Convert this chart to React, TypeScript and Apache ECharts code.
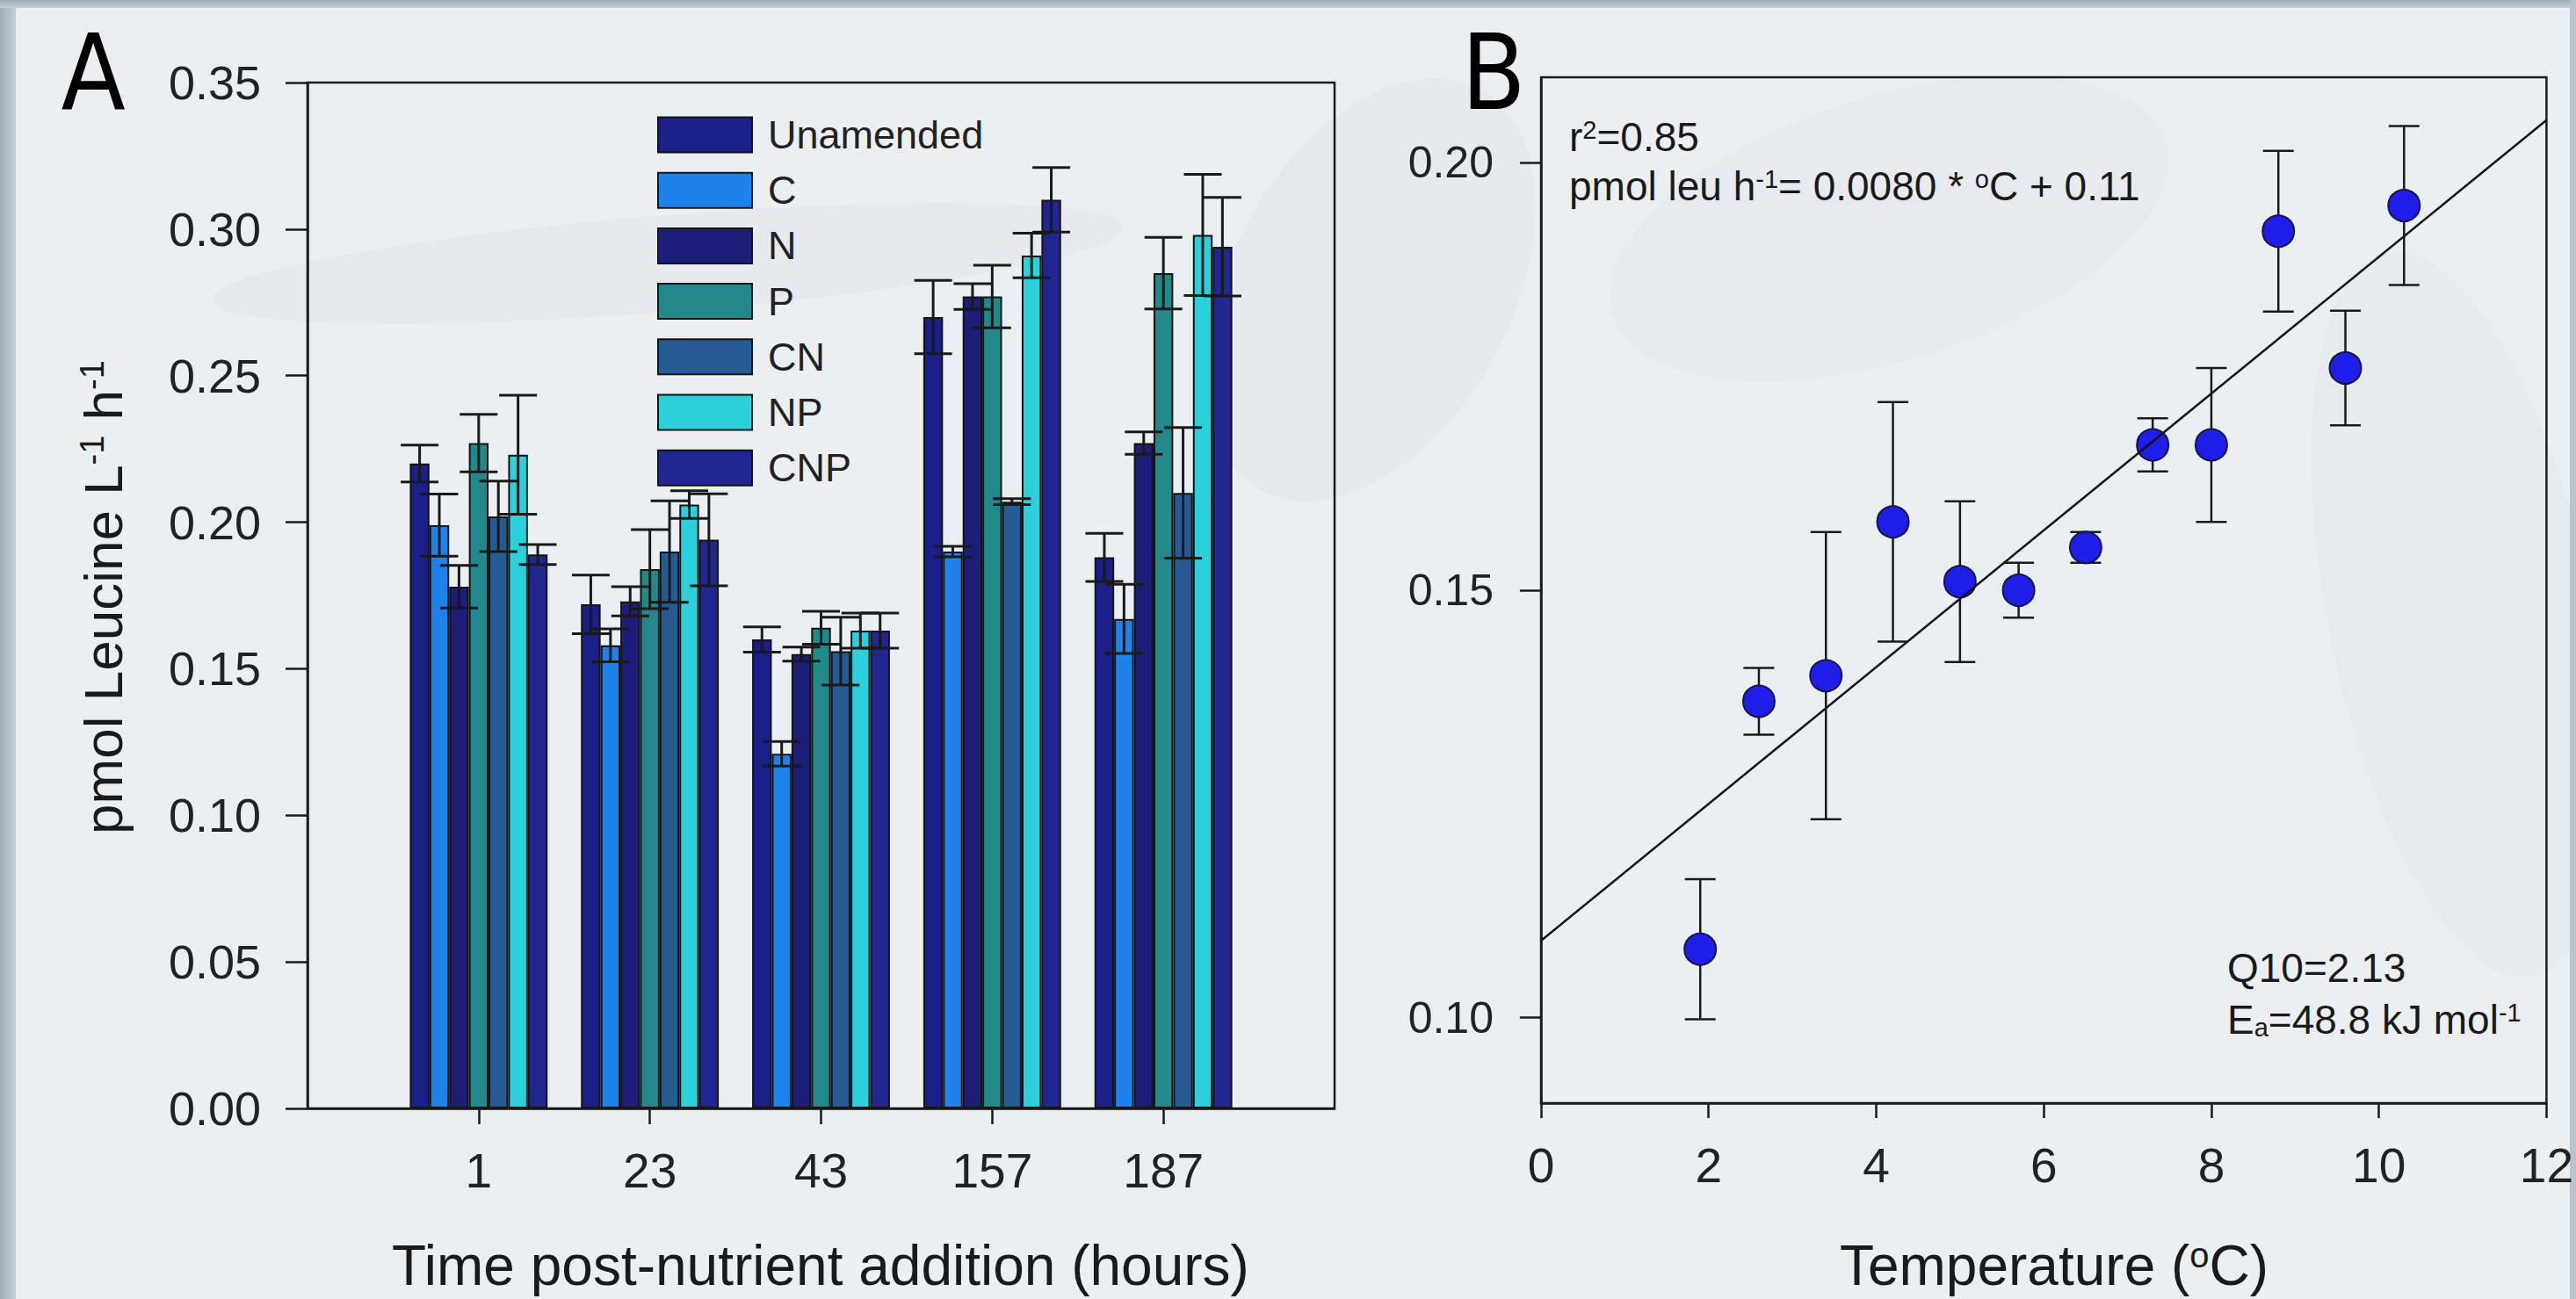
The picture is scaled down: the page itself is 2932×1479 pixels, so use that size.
import React, { useEffect, useRef } from 'react';
import * as echarts from 'echarts';

// ---------- Panel A data ----------
const hours = ['1', '23', '43', '157', '187'];
const treatments = ['Unamended', 'C', 'N', 'P', 'CN', 'NP', 'CNP'];
const treatmentColors = ['#1a2088', '#1f82ea', '#1c1e78', '#22888a', '#255a92', '#2bd0da', '#212690'];

const unamended = [0.220, 0.172, 0.160, 0.270, 0.188];
const unamendedErr = [0.0063, 0.010, 0.0043, 0.0125, 0.0082];
const cOnly = [0.199, 0.158, 0.121, 0.190, 0.167];
const cOnlyErr = [0.0106, 0.0056, 0.0042, 0.0018, 0.0118];
const nOnly = [0.178, 0.173, 0.155, 0.277, 0.227];
const nOnlyErr = [0.0073, 0.005, 0.0024, 0.0044, 0.0038];
const pOnly = [0.227, 0.184, 0.164, 0.277, 0.285];
const pOnlyErr = [0.0098, 0.0135, 0.0056, 0.0107, 0.0122];
const cn = [0.202, 0.190, 0.156, 0.207, 0.210];
const cnErr = [0.012, 0.0173, 0.0116, 0.001, 0.0223];
const np = [0.223, 0.206, 0.163, 0.291, 0.298];
const npErr = [0.0203, 0.0047, 0.006, 0.0076, 0.0207];
const cnp = [0.189, 0.194, 0.163, 0.310, 0.294];
const cnpErr = [0.0034, 0.0157, 0.006, 0.011, 0.0168];

const yMinA = 0;
const yMaxA = 0.35;
const yStepA = 0.05;

// ---------- Panel B data ----------
const temperature = [1.9, 2.6, 3.4, 4.2, 5.0, 5.7, 6.5, 7.3, 8.0, 8.8, 9.6, 10.3];
const leucineRate = [0.108, 0.137, 0.140, 0.158, 0.151, 0.150, 0.155, 0.167, 0.167, 0.192, 0.176, 0.195];
const leucineErr = [0.0082, 0.0039, 0.0168, 0.014, 0.0094, 0.0032, 0.0018, 0.0031, 0.009, 0.0094, 0.0067, 0.0093];
const fitX = [0, 12];
const fitY = [0.109, 0.205];
const yTicksB = [0.10, 0.15, 0.20];
const xTicksB = [0, 2, 4, 6, 8, 10, 12];

const FONT = '"Liberation Sans", Arial, Helvetica, sans-serif';
const NARROW = '"Liberation Sans Narrow", "DejaVu Sans Condensed", "Liberation Sans", sans-serif';
const INK = '#1a1a1a';
const BAR_FRAC = 0.115;

export default function App() {
  const ref = useRef<HTMLDivElement>(null);

  useEffect(() => {
    document.body.style.margin = '0';
    document.body.style.overflow = 'hidden';
    if (!ref.current) return;
    const chart = echarts.init(ref.current, undefined, { renderer: 'svg' });

    const values = [unamended, cOnly, nOnly, pOnly, cn, np, cnp];
    const errs = [unamendedErr, cOnlyErr, nOnlyErr, pOnlyErr, cnErr, npErr, cnpErr];
    const catData = ['', ...hours, ''];

    const barSeries = treatments.map((name, i) => ({
      type: 'bar',
      name,
      xAxisIndex: 0,
      yAxisIndex: 0,
      data: [null, ...values[i], null],
      barWidth: (BAR_FRAC * 100) + '%',
      barGap: '0%',
      itemStyle: { color: treatmentColors[i], borderColor: '#141414', borderWidth: 2 },
      z: 2,
    }));

    const errDataA: number[][] = [];
    values.forEach((vals, k) => {
      vals.forEach((v, j) => errDataA.push([j + 1, k, v, errs[k][j]]));
    });

    const errSeriesA = {
      type: 'custom',
      xAxisIndex: 0,
      yAxisIndex: 0,
      data: errDataA,
      encode: { x: 0, y: 2 },
      z: 5,
      silent: true,
      renderItem: (_p: any, api: any) => {
        const idx = api.value(0);
        const k = api.value(1);
        const v = api.value(2);
        const e = api.value(3);
        const band = api.size([1, 0])[0];
        const w = band * BAR_FRAC;
        const c = api.coord([idx, v]);
        const x = c[0] + (k - 3) * w;
        const yTop = api.coord([idx, v + e])[1];
        const yBot = api.coord([idx, v - e])[1];
        const hw = w * 0.96;
        const style = { stroke: INK, lineWidth: 3 };
        return {
          type: 'group',
          children: [
            { type: 'line', shape: { x1: x, y1: yTop, x2: x, y2: yBot }, style },
            { type: 'line', shape: { x1: x - hw, y1: yTop, x2: x + hw, y2: yTop }, style },
            { type: 'line', shape: { x1: x - hw, y1: yBot, x2: x + hw, y2: yBot }, style },
          ],
        };
      },
    };

    const errSeriesB = {
      type: 'custom',
      xAxisIndex: 1,
      yAxisIndex: 1,
      data: temperature.map((t, i) => [t, leucineRate[i], leucineErr[i]]),
      encode: { x: 0, y: 1 },
      z: 3,
      silent: true,
      renderItem: (_p: any, api: any) => {
        const t = api.value(0);
        const v = api.value(1);
        const e = api.value(2);
        const top = api.coord([t, v + e]);
        const bot = api.coord([t, v - e]);
        const hw = 17.5;
        const style = { stroke: INK, lineWidth: 2.5 };
        return {
          type: 'group',
          children: [
            { type: 'line', shape: { x1: top[0], y1: top[1], x2: bot[0], y2: bot[1] }, style },
            { type: 'line', shape: { x1: top[0] - hw, y1: top[1], x2: top[0] + hw, y2: top[1] }, style },
            { type: 'line', shape: { x1: bot[0] - hw, y1: bot[1], x2: bot[0] + hw, y2: bot[1] }, style },
          ],
        };
      },
    };

    const axisLine = { show: true, onZero: false, lineStyle: { color: INK, width: 2.5 } };
    const tickStyle = { color: INK, width: 2.5 };
    const labelBase = { color: '#222', fontFamily: FONT };

    const rich = (size: number) => ({
      m: { fontSize: size, fontFamily: FONT, fill: '#1a1a1a', color: '#1a1a1a' },
      s: { fontSize: Math.round(size * 0.62), fontFamily: FONT, fill: '#1a1a1a', color: '#1a1a1a', verticalAlign: 'top' },
      b: { fontSize: Math.round(size * 0.62), fontFamily: FONT, fill: '#1a1a1a', color: '#1a1a1a', verticalAlign: 'bottom' },
    });

    const textEl = (x: number, y: number, text: string, size: number, align = 'left', rotation = 0) => ({
      type: 'text',
      x,
      y,
      rotation,
      z: 10,
      silent: true,
      style: {
        text,
        rich: rich(size),
        font: `${size}px ${FONT}`,
        fill: '#1a1a1a',
        align,
        verticalAlign: 'middle',
        textAlign: align,
        textVerticalAlign: 'middle',
      },
    });

    const option: any = {
      animation: false,
      backgroundColor: '#eceff2',
      grid: [
        { left: 350, top: 94, width: 1169, height: 1168, show: true, borderColor: INK, borderWidth: 2.5, backgroundColor: 'transparent' },
        { left: 1754, top: 88, width: 1168, height: 1168, show: true, borderColor: INK, borderWidth: 2.5, backgroundColor: 'transparent' },
      ],
      legend: {
        data: treatments,
        orient: 'vertical',
        left: 743,
        top: 126,
        itemWidth: 107,
        itemHeight: 40,
        itemGap: 18.2,
        icon: 'rect',
        selectedMode: false,
        itemStyle: { borderColor: '#141414', borderWidth: 2 },
        textStyle: { fontSize: 45, color: '#222', fontFamily: FONT, padding: [0, 0, 0, 13], lineHeight: 40 },
      },
      xAxis: [
        {
          type: 'category',
          gridIndex: 0,
          data: catData,
          boundaryGap: false,
          axisLine,
          axisTick: { show: true, length: 18, lineStyle: tickStyle, interval: (i: number) => i >= 1 && i <= hours.length },
          axisLabel: { ...labelBase, fontSize: 55, margin: 43, interval: (i: number) => i >= 1 && i <= hours.length },
          splitLine: { show: false },
        },
        {
          type: 'value',
          gridIndex: 1,
          min: xTicksB[0],
          max: xTicksB[xTicksB.length - 1],
          interval: 2,
          axisLine,
          axisTick: { show: true, length: 17, lineStyle: tickStyle },
          axisLabel: { ...labelBase, fontSize: 55, margin: 43, showMinLabel: true, showMaxLabel: true },
          splitLine: { show: false },
        },
      ],
      yAxis: [
        {
          type: 'value',
          gridIndex: 0,
          min: yMinA,
          max: yMaxA,
          interval: yStepA,
          axisLine,
          axisTick: { show: true, length: 25, lineStyle: tickStyle },
          axisLabel: { ...labelBase, fontSize: 54, margin: 53, formatter: (v: number) => v.toFixed(2) },
          splitLine: { show: false },
        },
        {
          type: 'value',
          gridIndex: 1,
          min: 0.09,
          max: 0.21,
          axisLine,
          axisTick: { show: true, length: 24, lineStyle: tickStyle, customValues: yTicksB },
          axisLabel: { ...labelBase, fontSize: 50, margin: 54, customValues: yTicksB, formatter: (v: number) => v.toFixed(2) },
          splitLine: { show: false },
        },
      ],
      series: [
        ...barSeries,
        errSeriesA,
        errSeriesB,
        {
          type: 'scatter',
          xAxisIndex: 1,
          yAxisIndex: 1,
          data: temperature.map((t, i) => [t, leucineRate[i]]),
          symbol: 'circle',
          symbolSize: 36,
          itemStyle: { color: '#1e1ee8', borderColor: '#15154a', borderWidth: 2, opacity: 1 },
          z: 4,
          silent: true,
        },
        {
          type: 'line',
          xAxisIndex: 1,
          yAxisIndex: 1,
          data: fitX.map((x, i) => [x, fitY[i]]),
          symbol: 'none',
          showSymbol: false,
          lineStyle: { color: '#141414', width: 2.5 },
          z: 6,
          silent: true,
        },
      ],
      graphic: [
        // background texture hints
        { type: 'rect', z: -5, silent: true, shape: { x: 0, y: 0, width: 18, height: 1479 },
          style: { fill: new echarts.graphic.LinearGradient(0, 0, 1, 0, [{ offset: 0, color: '#9eadb9' }, { offset: 1, color: '#c6cfd6' }]) } },
        { type: 'rect', z: -5, silent: true, shape: { x: 0, y: 0, width: 2932, height: 9 },
          style: { fill: new echarts.graphic.LinearGradient(0, 0, 0, 1, [{ offset: 0, color: '#9eadb9' }, { offset: 1, color: '#c6cfd6' }]) } },
        { type: 'rect', z: -5, silent: true, shape: { x: 2925, y: 0, width: 7, height: 1479 }, style: { fill: '#b9c3cb' } },
        { type: 'ellipse', z: -6, silent: true, x: 760, y: 300, rotation: 0.08, shape: { cx: 0, cy: 0, rx: 520, ry: 55 }, style: { fill: '#d3d9df', opacity: 0.25 } },
        { type: 'ellipse', z: -6, silent: true, x: 1560, y: 330, rotation: -0.5, shape: { cx: 0, cy: 0, rx: 160, ry: 260 }, style: { fill: '#d3dae0', opacity: 0.25 } },
        { type: 'ellipse', z: -6, silent: true, x: 2150, y: 260, rotation: 0.3, shape: { cx: 0, cy: 0, rx: 330, ry: 150 }, style: { fill: '#d7dde3', opacity: 0.25 } },
        { type: 'ellipse', z: -6, silent: true, x: 2800, y: 700, rotation: 0.2, shape: { cx: 0, cy: 0, rx: 150, ry: 420 }, style: { fill: '#d7dde3', opacity: 0.2 } },
        // panel letters
        { type: 'text', x: 106, y: 83, z: 10, silent: true,
          style: { text: 'A', font: `119px ${NARROW}`, fill: '#000', align: 'center', verticalAlign: 'middle', textAlign: 'center', textVerticalAlign: 'middle' } },
        { type: 'text', x: 1700, y: 83, z: 10, silent: true,
          style: { text: 'B', font: `119px ${NARROW}`, fill: '#000', align: 'center', verticalAlign: 'middle', textAlign: 'center', textVerticalAlign: 'middle' } },
        // axis titles
        textEl(934, 1441, '{m|Time post-nutrient addition (hours)}', 64, 'center'),
        textEl(2338, 1441, '{m|Temperature (}{s|o}{m|C)}', 64, 'center'),
        textEl(117, 680, '{m|pmol Leucine L}{s|-1}{m| h}{s|-1}', 62, 'center', Math.PI / 2),
        // panel B annotations
        textEl(1786, 156, '{m|r}{s|2}{m|=0.85}', 46, 'left'),
        textEl(1786, 212, '{m|pmol leu h}{s|-1}{m|= 0.0080 * }{s|o}{m|C + 0.11}', 46, 'left'),
        textEl(2535, 1102, '{m|Q10=2.13}', 46, 'left'),
        textEl(2535, 1161, '{m|E}{b|a}{m|=48.8 kJ mol}{s|-1}', 46, 'left'),
      ],
    };

    chart.setOption(option);
    return () => chart.dispose();
  }, []);

  return (
    <div
      ref={ref}
      style={{ position: 'fixed', left: 0, top: 0, width: 2932, height: 1479 }}
    />
  );
}
